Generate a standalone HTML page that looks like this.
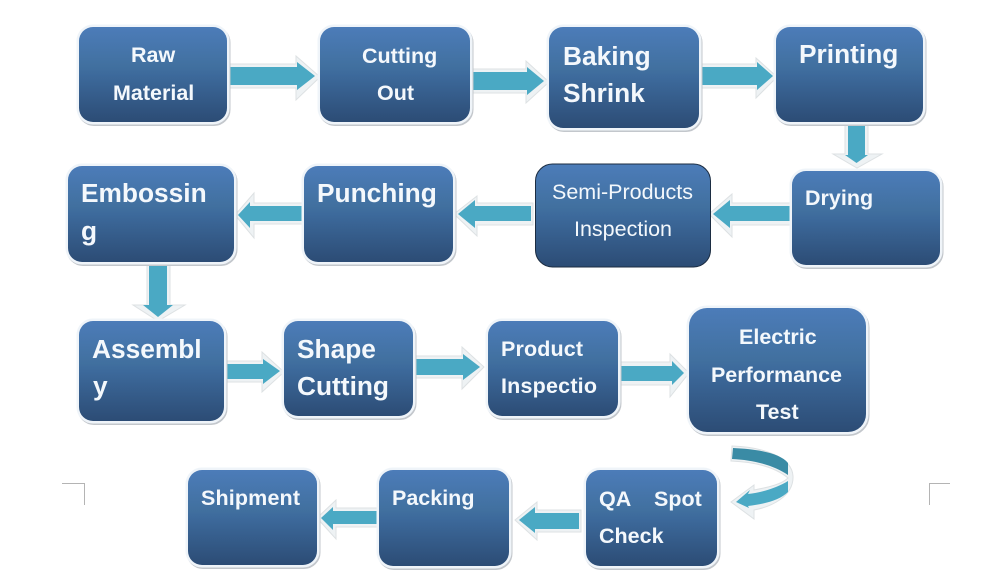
<!DOCTYPE html>
<html><head><meta charset="utf-8">
<style>
html,body{margin:0;padding:0;background:#fff;width:1000px;height:582px;overflow:hidden}
svg{display:block}
text{font-family:"Liberation Sans",sans-serif;font-weight:bold;fill:#f4f8fc}
.s{font-size:21.5px}
.l{font-size:26.3px}
.n{font-weight:normal;font-size:21.5px}
.o{fill:#eef2f4;stroke:#dde1e3;stroke-width:1}
.a{fill:#4aa9c4}
.b{fill:url(#g);stroke:#eff4f9;stroke-width:5;paint-order:stroke}
.bs{fill:#c3c7cc;stroke:#c3c7cc;stroke-width:5}
</style></head><body>
<svg width="1000" height="582" viewBox="0 0 1000 582" xmlns="http://www.w3.org/2000/svg">
<defs><linearGradient id="g" x1="0" y1="0" x2="0" y2="1">
<stop offset="0" stop-color="#4c7cb9"/><stop offset=".42" stop-color="#41709f"/><stop offset=".5" stop-color="#3d6a9c"/><stop offset="1" stop-color="#2c4c75"/>
</linearGradient></defs>
<rect width="1000" height="582" fill="#fff"/>

<!-- corner marks -->
<path d="M62 483.5H84.5V505M950 483.5H929.5V505" fill="none" stroke="#b4b4b4" stroke-width="1"/>

<!-- arrow outlines -->
<polygon class="o" points="230,64 296,64 296,56 320,77 296,100 296,88 230,88"/>
<polygon class="o" points="473,69 526,69 526,61 549,82 526,103 526,93 473,93"/>
<polygon class="o" points="702,64 756,64 756,58 777,77 756,98 756,88 702,88"/>
<polygon class="o" points="845,124 868,124 868,154 882,154 857,168 833,154 845,154"/>
<polygon class="o" points="790,203 732,203 732,194 709,214 732,237 732,225 790,225"/>
<polygon class="o" points="533,203 477,203 477,196 454,214 477,236 477,225 533,225"/>
<polygon class="o" points="303,203 254,203 254,193 235,215 254,238 254,224 303,224"/>
<polygon class="o" points="147,264 170,264 170,305 185,305 158,321 133,305 147,305"/>
<polygon class="o" points="226,361 262,361 262,352 284,372 262,392 262,382 226,382"/>
<polygon class="o" points="416,356 462,356 462,347 484,367 462,389 462,378 416,378"/>
<polygon class="o" points="620,362 670,362 670,354 689,373 670,397 670,385 620,385"/>
<polygon class="o" points="581,510 537,510 537,502 515,520 537,540 537,532 581,532"/>
<polygon class="o" points="378,508 336,508 336,500 317,518 336,539 336,527 378,527"/>

<!-- arrow fills -->
<polygon class="a" points="230,67 297,67 297,62 315,76 297,90 297,85 230,85"/>
<polygon class="a" points="473,72 527,72 527,67 544,81 527,95 527,90 473,90"/>
<polygon class="a" points="702,67 757,67 757,62 773,76 757,90 757,85 702,85"/>
<polygon class="a" points="848,124 865,124 865,155 868,155 856.5,163 845,155 848,155"/>
<polygon class="a" points="790,206 730,206 730,200 713,214 730,228 730,221 790,221"/>
<polygon class="a" points="531,206 475,206 475,200 458,214 475,228 475,221 531,221"/>
<polygon class="a" points="303,206 250,206 250,202 238,215 250,228 250,221 303,221"/>
<polygon class="a" points="149,264 167,264 167,305 173,305 158,317 143,305 149,305"/>
<polygon class="a" points="226,364 263,364 263,359 280,371 263,384 263,379 226,379"/>
<polygon class="a" points="416,359 463,359 463,354 480,367 463,380 463,375 416,375"/>
<polygon class="a" points="620,366 672,366 672,361 684,373 672,385 672,381 620,381"/>
<polygon class="a" points="579,513 535,513 535,507 519,520 535,533 535,529 579,529"/>
<polygon class="a" points="377,511 333,511 333,507 321,518 333,530 333,524 377,524"/>

<!-- curved arrow -->
<path d="M732 446C765 447 792 458 793 476C794 497 770 507 754 510L754 519L731 502L754 485L754 490C770 487 782 484 788 478C775 467 755 462 731 461Z" class="o"/>
<path d="M733 448C757 449 780 453 788 463L788 475C775 466 755 460 732 459Z" fill="#3a8ba5"/>
<path d="M788 481C778 487 765 492 748 494L750 490L736 502L749 508L748 506C765 504 780 500 788 492Z" fill="#4aa9c4"/>

<!-- boxes: shadows -->
<g transform="translate(1,1.5)">
<rect class="bs" x="79" y="27" width="148" height="95" rx="14"/>
<rect class="bs" x="320" y="27" width="150" height="95" rx="14"/>
<rect class="bs" x="549" y="27" width="150" height="101" rx="14"/>
<rect class="bs" x="776" y="27" width="147" height="95" rx="14"/>
<rect class="bs" x="792" y="171" width="148" height="94" rx="14"/>
<rect class="bs" x="304" y="166" width="149" height="96" rx="14"/>
<rect class="bs" x="68" y="166" width="166" height="96" rx="14"/>
<rect class="bs" x="79" y="321" width="145" height="100" rx="14"/>
<rect class="bs" x="284" y="321" width="129" height="95" rx="14"/>
<rect class="bs" x="488" y="321" width="130" height="95" rx="14"/>
<rect class="bs" x="689" y="308" width="177" height="124" rx="18"/>
<rect class="bs" x="586" y="470" width="131" height="96" rx="14"/>
<rect class="bs" x="379" y="470" width="130" height="96" rx="14"/>
<rect class="bs" x="188" y="470" width="129" height="95" rx="14"/>
</g>
<rect class="b" x="79" y="27" width="148" height="95" rx="14"/>
<rect class="b" x="320" y="27" width="150" height="95" rx="14"/>
<rect class="b" x="549" y="27" width="150" height="101" rx="14"/>
<rect class="b" x="776" y="27" width="147" height="95" rx="14"/>
<rect class="b" x="792" y="171" width="148" height="94" rx="14"/>
<rect x="535.5" y="164" width="175" height="103" rx="17" fill="url(#g)" stroke="#1c2d42" stroke-width="1"/>
<rect class="b" x="304" y="166" width="149" height="96" rx="14"/>
<rect class="b" x="68" y="166" width="166" height="96" rx="14"/>
<rect class="b" x="79" y="321" width="145" height="100" rx="14"/>
<rect class="b" x="284" y="321" width="129" height="95" rx="14"/>
<rect class="b" x="488" y="321" width="130" height="95" rx="14"/>
<rect class="b" x="689" y="308" width="177" height="124" rx="18"/>
<rect class="b" x="586" y="470" width="131" height="96" rx="14"/>
<rect class="b" x="379" y="470" width="130" height="96" rx="14"/>
<rect class="b" x="188" y="470" width="129" height="95" rx="14"/>

<!-- labels -->
<text class="s" x="131" y="62">Raw</text>
<text class="s" x="113" y="100">Material</text>
<text class="s" x="362" y="63">Cutting</text>
<text class="s" x="377" y="100">Out</text>
<text class="l" x="563" y="65">Baking</text>
<text class="l" x="563" y="102">Shrink</text>
<text class="l" x="799" y="63">Printing</text>
<text class="s" x="805" y="205">Drying</text>
<text class="n" x="552" y="199">Semi-Products</text>
<text class="n" x="574" y="236">Inspection</text>
<text class="l" x="317" y="202">Punching</text>
<text class="l" x="81" y="202">Embossin</text>
<text class="l" x="81" y="240">g</text>
<text class="l" x="92" y="358">Assembl</text>
<text class="l" x="93" y="395">y</text>
<text class="l" x="297" y="358">Shape</text>
<text class="l" x="297" y="395">Cutting</text>
<text class="s" x="501" y="356" textLength="82" lengthAdjust="spacing">Product</text>
<text class="s" x="501" y="393" textLength="96" lengthAdjust="spacing">Inspectio</text>
<text class="s" x="739" y="344">Electric</text>
<text class="s" x="711" y="382" textLength="131" lengthAdjust="spacing">Performance</text>
<text class="s" x="756" y="419">Test</text>
<text class="s" x="599" y="506">QA</text>
<text class="s" x="654" y="506">Spot</text>
<text class="s" x="599" y="543">Check</text>
<text class="s" x="392" y="505">Packing</text>
<text class="s" x="201" y="505" textLength="99" lengthAdjust="spacing">Shipment</text>
</svg>
</body></html>
